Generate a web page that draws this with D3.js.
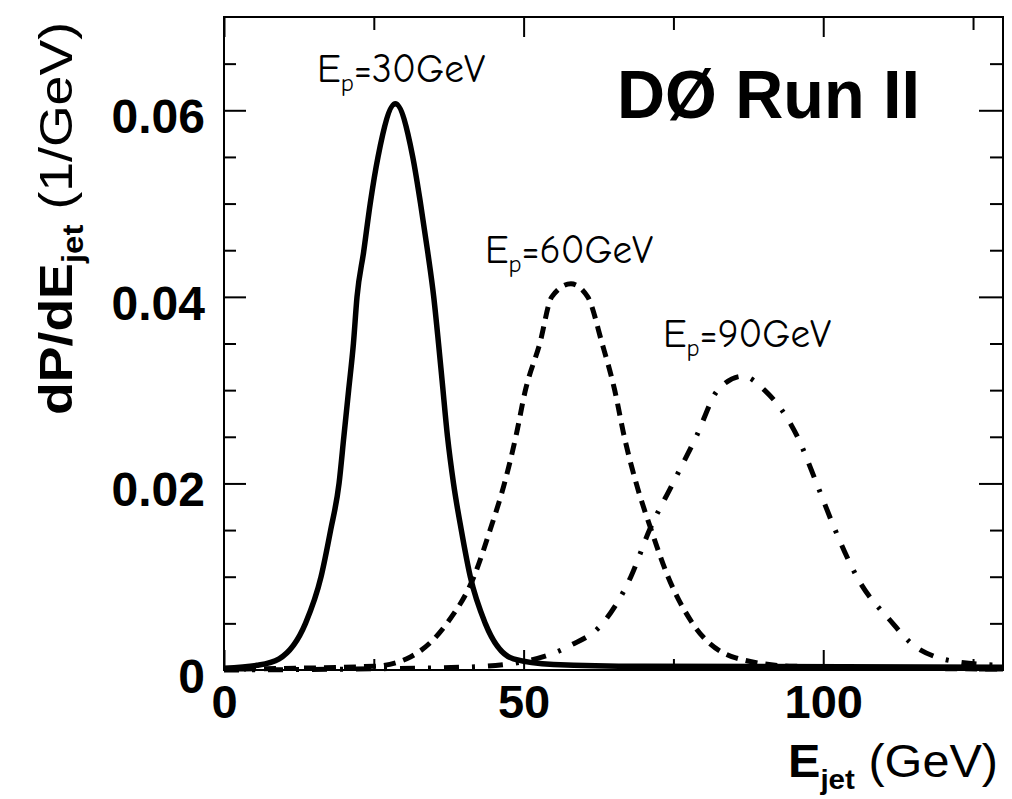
<!DOCTYPE html>
<html>
<head>
<meta charset="utf-8">
<script src="https://cdn.jsdelivr.net/npm/d3@7"></script>
<style>
  html, body { margin: 0; padding: 0; background: #fff; }
  svg { display: block; }
  .tick text { font-family: "Liberation Sans", Arial, sans-serif; font-weight: bold; fill: #000; }
  .tick line { stroke: #000; stroke-width: 2; }
</style>
</head>
<body>
<svg id="chart" width="1012" height="799"></svg>
<script>
// values: [E_jet (GeV), dP/dE_jet (1/GeV)]
const ep30 = [
  [0, 0.0002], [5.5, 0.0005], [9.2, 0.0012], [13.6, 0.005], [16.2, 0.01], [17.8, 0.015],
  [19.2, 0.02], [20.0, 0.025], [20.8, 0.03], [21.6, 0.035], [22.2, 0.04], [23.3, 0.0448],
  [24.4, 0.05], [25.7, 0.055], [28.6, 0.0607], [31.5, 0.055], [32.8, 0.05], [34.0, 0.0448],
  [35.0, 0.04], [35.8, 0.035], [36.4, 0.031], [37.3, 0.025], [38.3, 0.02], [39.6, 0.015],
  [41.1, 0.01], [43.6, 0.005], [48.3, 0.0012], [55, 0.0006], [70, 0.0004], [130, 0.0003]
];
const ep60 = [
  [0, 0.0001], [25, 0.0004], [31.1, 0.0014], [37.2, 0.005], [41.7, 0.01], [44.4, 0.015],
  [46.8, 0.02], [48.7, 0.025], [50.3, 0.03], [52.7, 0.035], [54.7, 0.04], [57.9, 0.0414],
  [60.7, 0.04], [63.1, 0.035], [65.2, 0.03], [66.8, 0.025], [68.8, 0.02], [71.3, 0.015],
  [74.1, 0.01], [78.2, 0.005], [85.4, 0.0013], [95, 0.0004], [130, 0.0001]
];
const ep90 = [
  [0, 0.0], [40, 0.0003], [50, 0.0009], [57.7, 0.0026], [63.2, 0.005], [67.9, 0.01],
  [71.0, 0.015], [74.9, 0.02], [78.8, 0.025], [82.4, 0.03], [86.6, 0.0315], [90.2, 0.03],
  [95.7, 0.025], [98.9, 0.02], [102.0, 0.015], [105.6, 0.01], [111.6, 0.005], [114.6, 0.0029],
  [118.8, 0.0014], [122.1, 0.0009], [130, 0.0005]
];

const xMajor = [0, 50, 100];
const xMinor = [25, 75, 125];
const yMajor = [0, 0.02, 0.04, 0.06];
const yMinor = [0.005, 0.01, 0.015, 0.025, 0.03, 0.035, 0.045, 0.05, 0.055, 0.065];

const curveLabels = [
  { text: "30GeV", x: 317, y: 82 },
  { text: "60GeV", x: 485, y: 263 },
  { text: "90GeV", x: 663, y: 347 }
];

const margin = { top: 17, left: 224, right: 9, bottom: 129 };
const width = 1012 - margin.left - margin.right;
const height = 799 - margin.top - margin.bottom;

const svg = d3.select('#chart');
const g = svg.append('g').attr('transform', `translate(${margin.left},${margin.top})`);

const x = d3.scaleLinear().domain([0, 130]).range([0, width]);
const y = d3.scaleLinear().domain([0, 0.07]).range([height, 0]);

// axes, ticks pointing inward
function fixText(sel, size, dy) {
  sel.selectAll('.tick text').style('font-size', size + 'px');
  if (dy) sel.selectAll('.tick text').attr('dy', dy);
  sel.select('.domain').remove();
}

g.append('g')
  .call(d3.axisLeft(y).tickValues(yMajor).tickSize(-22).tickPadding(19)
    .tickFormat(d => d === 0 ? '0' : d3.format('.2f')(d)))
  .call(s => fixText(s, 48, '0.47em'));
g.append('g')
  .call(d3.axisLeft(y).tickValues(yMinor).tickSize(-12).tickFormat(''))
  .call(s => fixText(s, 10));
g.append('g').attr('transform', `translate(${width},0)`)
  .call(d3.axisRight(y).tickValues(yMajor).tickSize(-24).tickFormat(''))
  .call(s => fixText(s, 10));
g.append('g').attr('transform', `translate(${width},0)`)
  .call(d3.axisRight(y).tickValues(yMinor).tickSize(-13).tickFormat(''))
  .call(s => fixText(s, 10));

g.append('g').attr('transform', `translate(0,${height})`)
  .call(d3.axisBottom(x).tickValues(xMajor).tickSize(-20).tickPadding(15))
  .call(s => fixText(s, 47));
g.append('g').attr('transform', `translate(0,${height})`)
  .call(d3.axisBottom(x).tickValues(xMinor).tickSize(-11).tickFormat(''))
  .call(s => fixText(s, 10));
g.append('g')
  .call(d3.axisTop(x).tickValues(xMajor).tickSize(-20).tickFormat(''))
  .call(s => fixText(s, 10));
g.append('g')
  .call(d3.axisTop(x).tickValues(xMinor).tickSize(-13).tickFormat(''))
  .call(s => fixText(s, 10));

// curves
const line = d3.line()
  .x(d => x(d[0]))
  .y(d => y(d[1]))
  .curve(d3.curveMonotoneX);

const series = [
  { data: ep30, dash: null, w: 5.5 },
  { data: ep60, dash: '12,8', w: 5 },
  { data: ep90, dash: '15,13,3,13', w: 5 }
];
g.selectAll('path.curve')
  .data(series)
  .enter()
  .append('path')
  .attr('class', 'curve')
  .attr('d', d => line(d.data))
  .attr('fill', 'none')
  .attr('stroke', '#000')
  .attr('stroke-width', d => d.w)
  .attr('stroke-dasharray', d => d.dash);

// frame
g.append('rect')
  .attr('width', width).attr('height', height)
  .attr('fill', 'none').attr('stroke', '#000').attr('stroke-width', 2);

// curve labels
const lab = svg.selectAll('text.ep')
  .data(curveLabels)
  .enter()
  .append('text')
  .attr('class', 'ep')
  .attr('x', d => d.x).attr('y', d => d.y)
  .attr('textLength', 168).attr('lengthAdjust', 'spacingAndGlyphs')
  .style('font-family', '"Comic Sans MS", "Comic Neue", "DejaVu Sans", sans-serif')
  .style('font-size', '40px');
lab.append('tspan').text('E');
lab.append('tspan').attr('dy', 9).style('font-size', '25px').text('p');
lab.append('tspan').attr('dy', -9).text(d => '=' + d.text);

// experiment tag
svg.append('text')
  .attr('x', 617).attr('y', 118)
  .attr('textLength', 303).attr('lengthAdjust', 'spacingAndGlyphs')
  .style('font-family', '"Liberation Sans", Arial, sans-serif')
  .style('font-weight', 'bold').style('font-size', '68px')
  .text('DØ Run II');

// axis titles
const xt = svg.append('text')
  .attr('x', 998).attr('y', 777).attr('text-anchor', 'end')
  .attr('textLength', 210).attr('lengthAdjust', 'spacingAndGlyphs')
  .style('font-family', '"Liberation Sans", Arial, sans-serif')
  .style('font-size', '46px');
xt.append('tspan').style('font-weight', 'bold').text('E');
xt.append('tspan').attr('dy', 12).style('font-weight', 'bold').style('font-size', '28px').text('jet');
xt.append('tspan').attr('dy', -12).text(' (GeV)');

const yt = svg.append('text')
  .attr('transform', 'translate(72,22) rotate(-90)')
  .attr('text-anchor', 'end')
  .attr('textLength', 393).attr('lengthAdjust', 'spacingAndGlyphs')
  .style('font-family', '"Liberation Sans", Arial, sans-serif')
  .style('font-size', '47px');
yt.append('tspan').style('font-weight', 'bold').text('dP/dE');
yt.append('tspan').attr('dy', 11).style('font-weight', 'bold').style('font-size', '29px').text('jet');
yt.append('tspan').attr('dy', -11).text(' (1/GeV)');
</script>
</body>
</html>
